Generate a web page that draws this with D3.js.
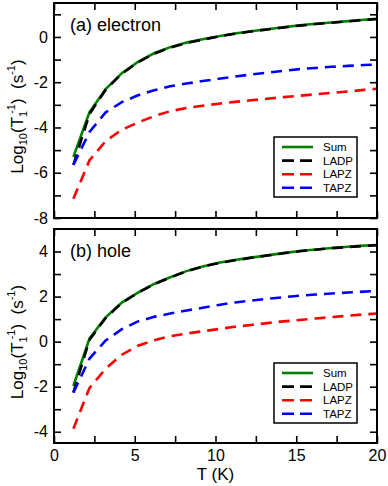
<!DOCTYPE html>
<html>
<head>
<meta charset="utf-8">
<script src="https://cdn.jsdelivr.net/npm/d3@7"></script>
<style>
  html, body { margin: 0; padding: 0; background: #fff; }
  svg { display: block; font-family: "Liberation Sans", Arial, sans-serif; }
</style>
</head>
<body>
<svg id="chart" width="388" height="486"></svg>
<script>
// ---------- data ----------
const temps = [1.2, 2.2, 3.2, 4.2, 5.2, 6.2, 7.2, 8.2, 9.2, 10.2, 11.2, 12.2, 13.2, 14.2, 15.2, 16.2, 17.2, 18.2, 19.2, 20];

// (a) electron
const elecSum  = [-5.30, -3.32, -2.30, -1.60, -1.10, -0.72, -0.45, -0.25, -0.10, 0.03, 0.15, 0.25, 0.34, 0.43, 0.51, 0.58, 0.64, 0.70, 0.76, 0.80];
const elecLADP = [-5.65, -3.40, -2.33, -1.62, -1.12, -0.74, -0.47, -0.27, -0.12, 0.02, 0.14, 0.24, 0.33, 0.42, 0.50, 0.57, 0.63, 0.69, 0.75, 0.79];
const elecLAPZ = [-7.15, -5.45, -4.60, -4.10, -3.78, -3.50, -3.28, -3.14, -3.04, -2.95, -2.87, -2.80, -2.73, -2.66, -2.60, -2.53, -2.47, -2.41, -2.34, -2.29];
const elecTAPZ = [-5.65, -4.20, -3.33, -2.88, -2.58, -2.36, -2.18, -2.06, -1.95, -1.85, -1.75, -1.66, -1.58, -1.50, -1.42, -1.37, -1.32, -1.28, -1.24, -1.22];

// (b) hole
const holeSum  = [-1.97, 0.14, 1.08, 1.73, 2.18, 2.56, 2.86, 3.13, 3.34, 3.50, 3.62, 3.73, 3.83, 3.93, 4.02, 4.09, 4.16, 4.21, 4.26, 4.29];
const holeLADP = [-2.25, 0.08, 1.05, 1.72, 2.17, 2.55, 2.85, 3.12, 3.33, 3.49, 3.61, 3.72, 3.82, 3.92, 4.01, 4.08, 4.15, 4.20, 4.25, 4.28];
const holeLAPZ = [-3.87, -2.05, -1.20, -0.58, -0.18, 0.06, 0.24, 0.36, 0.46, 0.56, 0.66, 0.74, 0.82, 0.90, 0.96, 1.03, 1.09, 1.15, 1.21, 1.25];
const holeTAPZ = [-2.27, -0.75, 0.05, 0.55, 0.90, 1.10, 1.25, 1.38, 1.50, 1.63, 1.74, 1.82, 1.90, 1.97, 2.04, 2.09, 2.14, 2.18, 2.22, 2.25];

const seriesNames = ["Sum", "LADP", "LAPZ", "TAPZ"];
const seriesColors = ["#008000", "#000000", "#ff0000", "#0000ff"];

const xTicks = [0, 2.5, 5, 7.5, 10, 12.5, 15, 17.5, 20];
const xTickLabels = [0, 5, 10, 15, 20];
const yTicksA = [-8, -7, -6, -5, -4, -3, -2, -1, 0, 1];
const yTicksB = [-4, -3, -2, -1, 0, 1, 2, 3, 4];

// ---------- layout ----------
const svg = d3.select("#chart");
const left = 54, right = 377;
const panels = [
  { top: 3, bottom: 218, domain: [-8, 1.5], ticks: yTicksA, label: "(a) electron",
    data: [elecSum, elecLADP, elecLAPZ, elecTAPZ], showX: false, legendTop: 137 },
  { top: 229, bottom: 443, domain: [-4.5, 5], ticks: yTicksB, label: "(b) hole",
    data: [holeSum, holeLADP, holeLAPZ, holeTAPZ], showX: true, legendTop: 363 }
];

const x = d3.scaleLinear().domain([0, 20]).range([left, right]);
const dash = "11,7";
const tickLen = 7;

panels.forEach(p => {
  const y = d3.scaleLinear().domain(p.domain).range([p.bottom, p.top]);
  const g = svg.append("g");

  // curves
  const line = d3.line().x((d, i) => x(temps[i])).y(d => y(d));
  p.data.forEach((vals, k) => {
    g.append("path")
      .datum(vals)
      .attr("d", line)
      .attr("fill", "none")
      .attr("stroke", seriesColors[k])
      .attr("stroke-width", 2.6)
      .attr("stroke-dasharray", k === 0 ? null : dash);
  });

  // axes
  const axL = d3.axisLeft(y).tickValues(p.ticks).tickSize(-tickLen).tickPadding(6)
    .tickFormat(d => (d % 2 === 0 ? String(d) : ""));
  const axR = d3.axisRight(y).tickValues(p.ticks).tickSize(-tickLen).tickFormat("");
  const axT = d3.axisTop(x).tickValues(xTicks).tickSize(-tickLen).tickFormat("");
  const axB = d3.axisBottom(x).tickValues(xTicks).tickSize(-tickLen).tickPadding(4)
    .tickFormat(d => (p.showX && xTickLabels.includes(d) ? String(d) : ""));

  const styleAxis = sel => {
    sel.select(".domain").remove();
    sel.selectAll(".tick line").attr("stroke", "#000").attr("stroke-width", 1.6);
    sel.selectAll(".tick text").attr("fill", "#000").style("font-size", "16px")
      .style("font-family", "'Liberation Sans', Arial, sans-serif");
  };
  g.append("g").attr("transform", `translate(${left},0)`).call(axL).call(styleAxis);
  g.append("g").attr("transform", `translate(${right},0)`).call(axR).call(styleAxis);
  g.append("g").attr("transform", `translate(0,${p.top})`).call(axT).call(styleAxis);
  const gb = g.append("g").attr("transform", `translate(0,${p.bottom})`).call(axB).call(styleAxis);
  gb.selectAll(".tick text").attr("dy", "0.85em");

  // frame
  g.append("rect")
    .attr("x", left).attr("y", p.top)
    .attr("width", right - left).attr("height", p.bottom - p.top)
    .attr("fill", "none").attr("stroke", "#000").attr("stroke-width", 2);

  // panel label
  g.append("text")
    .attr("x", left + 16).attr("y", p.top + 28)
    .style("font-size", "18px").text(p.label);

  // y-axis label
  const cy = (p.top + p.bottom) / 2 + 6;
  const yl = g.append("text")
    .attr("transform", `translate(23,${cy}) rotate(-90)`)
    .attr("text-anchor", "middle")
    .style("font-size", "17px");
  yl.append("tspan").text("Log");
  yl.append("tspan").attr("dy", 4).style("font-size", "11px").text("10");
  yl.append("tspan").attr("dy", -4).text("(T");
  yl.append("tspan").attr("dy", 4).style("font-size", "11px").text("1");
  yl.append("tspan").attr("dy", -12).attr("dx", -3).style("font-size", "11px").text("-1");
  yl.append("tspan").attr("dy", 8).text(")\u00a0\u00a0(s");
  yl.append("tspan").attr("dy", -8).style("font-size", "11px").text("-1");
  yl.append("tspan").attr("dy", 8).text(")");

  // legend
  const lx = 274, lw = 83, lh = 60, lt = p.legendTop;
  const lg = g.append("g");
  lg.append("rect").attr("x", lx).attr("y", lt).attr("width", lw).attr("height", lh)
    .attr("fill", "#fff").attr("stroke", "#000").attr("stroke-width", 1.5);
  seriesNames.forEach((name, k) => {
    const ry = lt + 10 + k * 13.6;
    lg.append("line").attr("x1", lx + 8).attr("x2", lx + 39).attr("y1", ry).attr("y2", ry)
      .attr("stroke", seriesColors[k]).attr("stroke-width", 2.6)
      .attr("stroke-dasharray", k === 0 ? null : "12,6");
    lg.append("text").attr("x", lx + 49).attr("y", ry).attr("dy", "0.36em")
      .style("font-size", "11.5px").text(name);
  });
});

// x-axis label
svg.append("text")
  .attr("x", (left + right) / 2).attr("y", 480)
  .attr("text-anchor", "middle")
  .style("font-size", "17px").text("T (K)");
</script>
</body>
</html>
